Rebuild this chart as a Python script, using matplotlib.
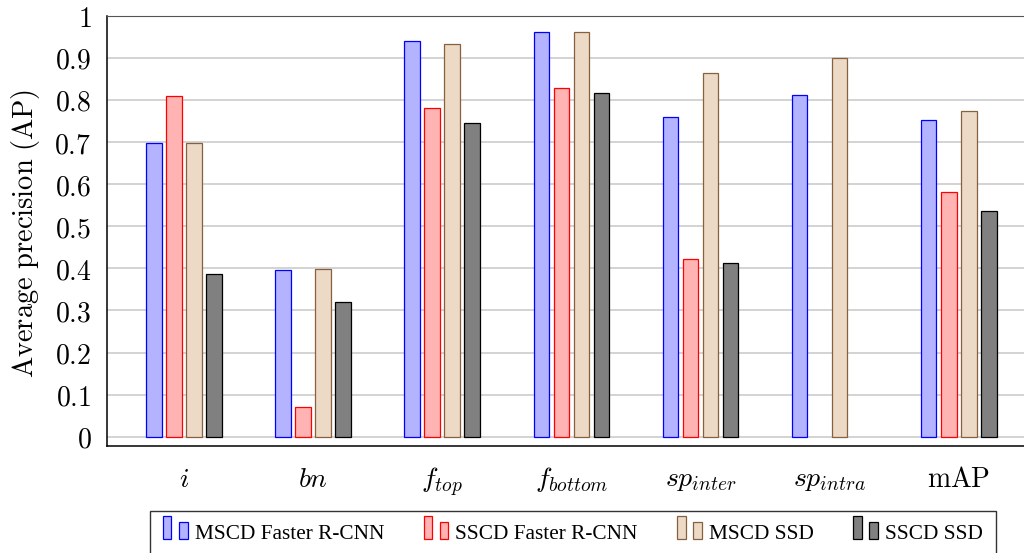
import numpy as np
import matplotlib
matplotlib.use('Agg')
import matplotlib.pyplot as plt
from matplotlib.patches import Rectangle
from matplotlib.legend_handler import HandlerBase

plt.rcParams['mathtext.fontset'] = 'cm'

categories = [r'$i$', r'$bn$', r'$f_{top}$', r'$f_{bottom}$',
              r'$sp_{inter}$', r'$sp_{intra}$', r'$\mathrm{mAP}$']
mscd_frcnn = [0.697, 0.397, 0.941, 0.961, 0.759, 0.811, 0.753]
sscd_frcnn = [0.810, 0.071, 0.780, 0.829, 0.421, np.nan, 0.582]
mscd_ssd = [0.697, 0.399, 0.932, 0.961, 0.864, 0.900, 0.773]
sscd_ssd = [0.386, 0.320, 0.746, 0.817, 0.412, np.nan, 0.536]
series_names = ['MSCD Faster R-CNN', 'SSCD Faster R-CNN', 'MSCD SSD', 'SSCD SSD']

faces = ['#b3b3ff', '#ffb3b3', '#ecd9c6', '#808080']
edges = ['#0000ff', '#ff0000', '#86613b', '#000000']


class TwoBars(HandlerBase):
    # pgfplots style ybar legend: two little bars
    def create_artists(self, legend, orig_handle, xdescent, ydescent,
                       width, height, fontsize, trans):
        w = width*0.34
        y0 = -ydescent
        r1 = Rectangle((-xdescent, y0), w, height*1.55, transform=trans)
        r2 = Rectangle((-xdescent + width*0.66, y0), w, height*1.15, transform=trans)
        for r in (r1, r2):
            r.set_facecolor(orig_handle.get_facecolor())
            r.set_edgecolor(orig_handle.get_edgecolor())
            r.set_linewidth(0.9)
        return [r1, r2]


fig = plt.figure(figsize=(10.24, 5.53), dpi=100)
ax = fig.add_axes([0.1042, 0.1935, 0.8958, 0.7781])

x = np.arange(len(categories))
step = 0.155
width = 0.12
bars = []
for k, vals in enumerate([mscd_frcnn, sscd_frcnn, mscd_ssd, sscd_ssd]):
    b = ax.bar(x + (k - 1.5)*step, vals, width, color=faces[k], edgecolor=edges[k],
               linewidth=0.9, label=series_names[k], zorder=3)
    bars.append(b)

ax.set_xlim(-0.597, 6.505)
ax.set_ylim(-0.022, 1.0)
ax.set_xticks(x)
ax.set_xticklabels(categories, fontsize=20)
yt = np.round(np.arange(0, 1.01, 0.1), 1)
ax.set_yticks(yt)
ax.set_yticklabels(['$%g$' % v for v in yt], fontsize=20)
ax.tick_params(axis='both', length=0)
ax.tick_params(axis='y', pad=11)
ax.tick_params(axis='x', pad=14)
ax.yaxis.grid(True, color='#c8c8c8', linewidth=1.1, zorder=0)
ax.set_axisbelow(True)
ax.spines['right'].set_visible(False)
for s in ['left', 'bottom']:
    ax.spines[s].set_linewidth(1.1)
ax.spines['top'].set_color('#555555')

ax.set_ylabel(r'$\mathrm{Average\ precision\ (AP)}$', fontsize=20.5, va='center')
ax.yaxis.set_label_coords(-0.0885, 0.495)

leg = fig.legend([b.patches[0] for b in bars], series_names, ncol=4,
                 loc='upper left', bbox_to_anchor=(150/1024, 1 - 511/553),
                 borderaxespad=0,
                 handler_map={Rectangle: TwoBars()},
                 prop={'family': 'Liberation Serif', 'size': 15.3},
                 handlelength=1.15, handletextpad=0.34, columnspacing=1.86,
                 borderpad=0.62, fancybox=False, framealpha=1)
leg.get_frame().set_edgecolor('#333333')
leg.get_frame().set_linewidth(1.0)

fig.savefig('out.png', dpi=100)
